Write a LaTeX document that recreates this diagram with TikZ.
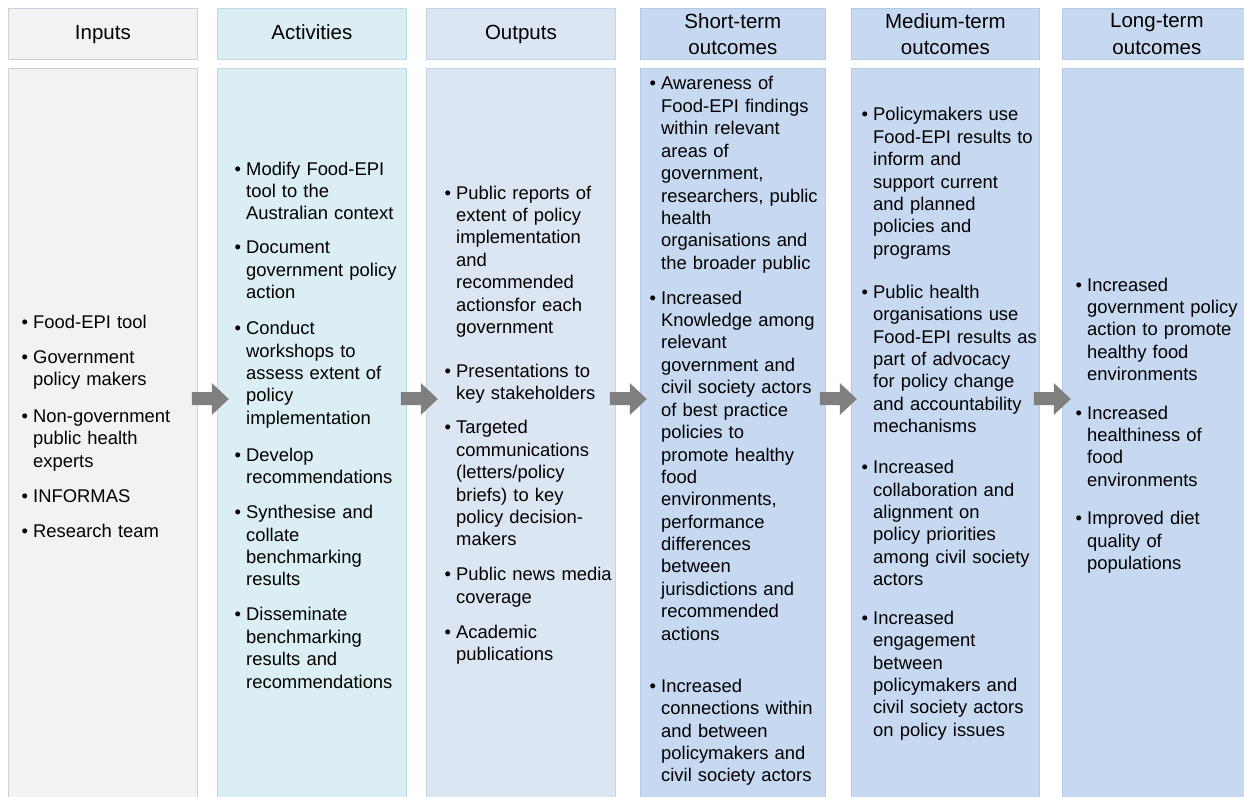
\documentclass[tikz,border=0pt]{standalone}
\usepackage{fontspec}
\setmainfont{Liberation Sans}
\usetikzlibrary{calc}
\definecolor{fillinp}{HTML}{F2F2F2}
\definecolor{lineinp}{HTML}{CDD0D8}
\definecolor{fillact}{HTML}{DAEEF3}
\definecolor{lineact}{HTML}{B9DCE6}
\definecolor{fillout}{HTML}{DCE6F2}
\definecolor{lineout}{HTML}{C5D3E6}
\definecolor{fillres}{HTML}{C6D9F1}
\definecolor{lineres}{HTML}{B3CAE6}
\definecolor{arrowgray}{HTML}{7F7F7F}
\newlength{\bulw}\setlength{\bulw}{11.6pt}
\newcommand{\bitem}{\hangindent=\bulw\hangafter=1\noindent\makebox[\bulw][l]{\textbullet}}
\newcommand{\igap}[1]{\par\vspace{#1}}

\begin{document}
\begin{tikzpicture}[x=1pt, y=-1pt,
    head/.style={anchor=north west, minimum height=51pt, inner sep=0pt, line width=0.8pt},
    headtxt/.style={inner sep=0pt, align=center, font=\fontsize{20.5pt}{26.5pt}\selectfont, execute at begin node=\strut},
    colbox/.style={anchor=north west, minimum height=740pt, inner sep=0pt, line width=0.8pt},
    items/.style={anchor=base west, inner sep=0pt, text width=200pt, align=left, font=\fontsize{18.4pt}{22.4pt}\selectfont}]
    \useasboundingbox (0,0) rectangle (1244,797);
    % column headers and bodies
    \foreach \n/\x/\w/\c/\dy/\t in {inp/8/189/inp/0/Inputs, act/217/189/act/0/Activities, out/426/189/out/0/Outputs,
        sht/640/185/res/4/{Short-term\\outcomes}, med/851/188/res/4/{Medium-term\\outcomes}, lng/1062/189/res/4/{Long-term\\outcomes}} {
        \node[head, fill=fill\c, draw=line\c, minimum width=\w pt] (h\n) at (\x,8) {};
        \node[headtxt] (l\n) at ($(h\n.center)+(0,\dy)$) {\t};
        \node[colbox, fill=fill\c, draw=line\c, minimum width=\w pt] (b\n) at (\x,68) {};
    }
    % block arrows between the columns
    \coordinate (arrowrow) at (0,392);
    \foreach \a in {inp,act,out,sht,med}
        \fill[arrowgray] ($(b\a.east |- arrowrow)+(-6,0)$) -- ++(20,0) -- ++(0,-9) -- ++(17,16) -- ++(-17,16) -- ++(0,-10) -- ++(-20,0) -- cycle;
    % column texts
    \node[items] (tinp) at (21.4,328) {%
        \bitem Food-EPI tool\igap{12.6pt}
        \bitem Government\newline policy makers\igap{14.6pt}
        \bitem Non-government\newline public health\newline experts\igap{12.6pt}
        \bitem INFORMAS\igap{12.6pt}
        \bitem Research team\par};
    \node[items] (tact) at (234.4,175) {%
        \bitem Modify Food-EPI\newline tool to the\newline Australian context\igap{11.6pt}
        \bitem Document\newline government policy\newline action\igap{13.6pt}
        \bitem Conduct\newline workshops to\newline assess extent of\newline policy\newline implementation\igap{14.6pt}
        \bitem Develop\newline recommendations\igap{12.6pt}
        \bitem Synthesise and\newline collate\newline benchmarking\newline results\igap{12.6pt}
        \bitem Disseminate\newline benchmarking\newline results and\newline recommendations\par};
    \node[items] (tout) at (444.4,199) {%
        \bitem Public reports of\newline extent of policy\newline implementation\newline and\newline recommended\newline actionsfor each\newline government\igap{21.6pt}
        \bitem Presentations to\newline key stakeholders\igap{11.6pt}
        \bitem Targeted\newline communications\newline (letters/policy\newline briefs) to key\newline policy decision-\newline makers\igap{12.6pt}
        \bitem Public news media\newline coverage\igap{12.6pt}
        \bitem Academic\newline publications\par};
    \node[items] (tsht) at (649.4,90) {%
        \bitem Awareness of\newline Food-EPI findings\newline within relevant\newline areas of\newline government,\newline researchers, public\newline health\newline organisations and\newline the broader public\igap{12.6pt}
        \bitem Increased\newline Knowledge among\newline relevant\newline government and\newline civil society actors\newline of best practice\newline policies to\newline promote healthy\newline food\newline environments,\newline performance\newline differences\newline between\newline jurisdictions and\newline recommended\newline actions\igap{29.6pt}
        \bitem Increased\newline connections within\newline and between\newline policymakers and\newline civil society actors\par};
    \node[items] (tmed) at (861.4,121) {%
        \bitem Policymakers use\newline Food-EPI results to\newline inform and\newline support current\newline and planned\newline policies and\newline programs\igap{20.6pt}
        \bitem Public health\newline organisations use\newline Food-EPI results as\newline part of advocacy\newline for policy change\newline and accountability\newline mechanisms\igap{18.4pt}
        \bitem Increased\newline collaboration and\newline alignment on\newline policy priorities\newline among civil society\newline actors\igap{16.4pt}
        \bitem Increased\newline engagement\newline between\newline policymakers and\newline civil society actors\newline on policy issues\par};
    \node[items] (tlng) at (1075.4,291) {%
        \bitem Increased\newline government policy\newline action to promote\newline healthy food\newline environments\igap{16pt}
        \bitem Increased\newline healthiness of\newline food\newline environments\igap{16pt}
        \bitem Improved diet\newline quality of\newline populations\par};
\end{tikzpicture}
\end{document}
